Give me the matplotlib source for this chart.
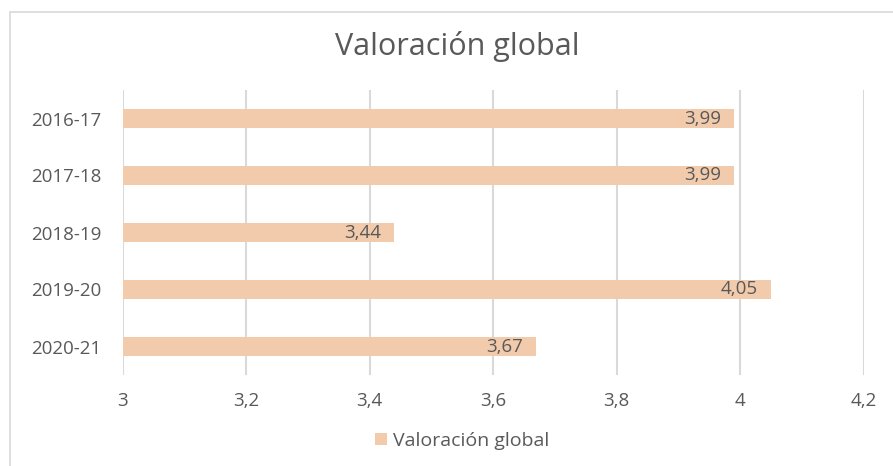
import matplotlib.pyplot as plt
from matplotlib.patches import Rectangle
from matplotlib.transforms import offset_copy

# Data
periodos = ["2016-17", "2017-18", "2018-19", "2019-20", "2020-21"]
valores = [3.99, 3.99, 3.44, 4.05, 3.67]
ticks = [3, 3.2, 3.4, 3.6, 3.8, 4, 4.2]
tick_labels = ["3", "3,2", "3,4", "3,6", "3,8", "4", "4,2"]

bar_color = "#F2CBAC"
text_color = "#595959"
grid_color = "#D9D9D9"

plt.rcParams["font.family"] = ["Open Sans", "DejaVu Sans"]

fig = plt.figure(figsize=(8.93, 4.66), dpi=100)
ax = fig.add_axes([122.5 / 893, 1 - 375 / 466, 741 / 893, 285 / 466])

# Chart border (cropped screenshot, so it runs off right and bottom)
fig.patches.append(Rectangle((10 / 893, -0.05), 1.0, 1 - 12 / 466 + 0.05,
                             transform=fig.transFigure, fill=False,
                             edgecolor=grid_color, linewidth=1.2))

y = range(len(periodos))
bars = ax.barh(y, [v - 3 for v in valores], left=3, height=0.35,
               color=bar_color, zorder=2)

# value labels just inside the end of each bar
lbl_trans = offset_copy(ax.transData, fig=fig, x=-13, y=0, units="dots")
for i, v in enumerate(valores):
    ax.text(v, i, f"{v:.2f}".replace(".", ","), ha="right", va="center",
            fontsize=13.5, color=text_color, zorder=3, transform=lbl_trans)

ax.set_xlim(3, 4.2)
ax.set_ylim(4.5, -0.5)
ax.set_xticks(ticks)
ax.set_xticklabels(tick_labels)
ax.set_yticks(list(y))
ax.set_yticklabels(periodos)
ax.tick_params(axis="both", length=0, colors=text_color, labelsize=13.5)
ax.tick_params(axis="x", pad=12)
ax.tick_params(axis="y", pad=15)
ax.xaxis.grid(True, color=grid_color, linewidth=1.5, zorder=0)
ax.set_axisbelow(True)
for s in ax.spines.values():
    s.set_visible(False)

fig.text(457 / 893, 1 - 47 / 466, "Valoración global", ha="center", va="center",
         fontsize=22, color=text_color)

ax.legend([bars], ["Valoración global"], loc="center",
          bbox_to_anchor=(462 / 893, 1 - 441 / 466), bbox_transform=fig.transFigure,
          frameon=False, fontsize=14, labelcolor=text_color,
          handlelength=0.6, handleheight=0.6, handletextpad=0.3)

fig.savefig("out.png", dpi=100)
